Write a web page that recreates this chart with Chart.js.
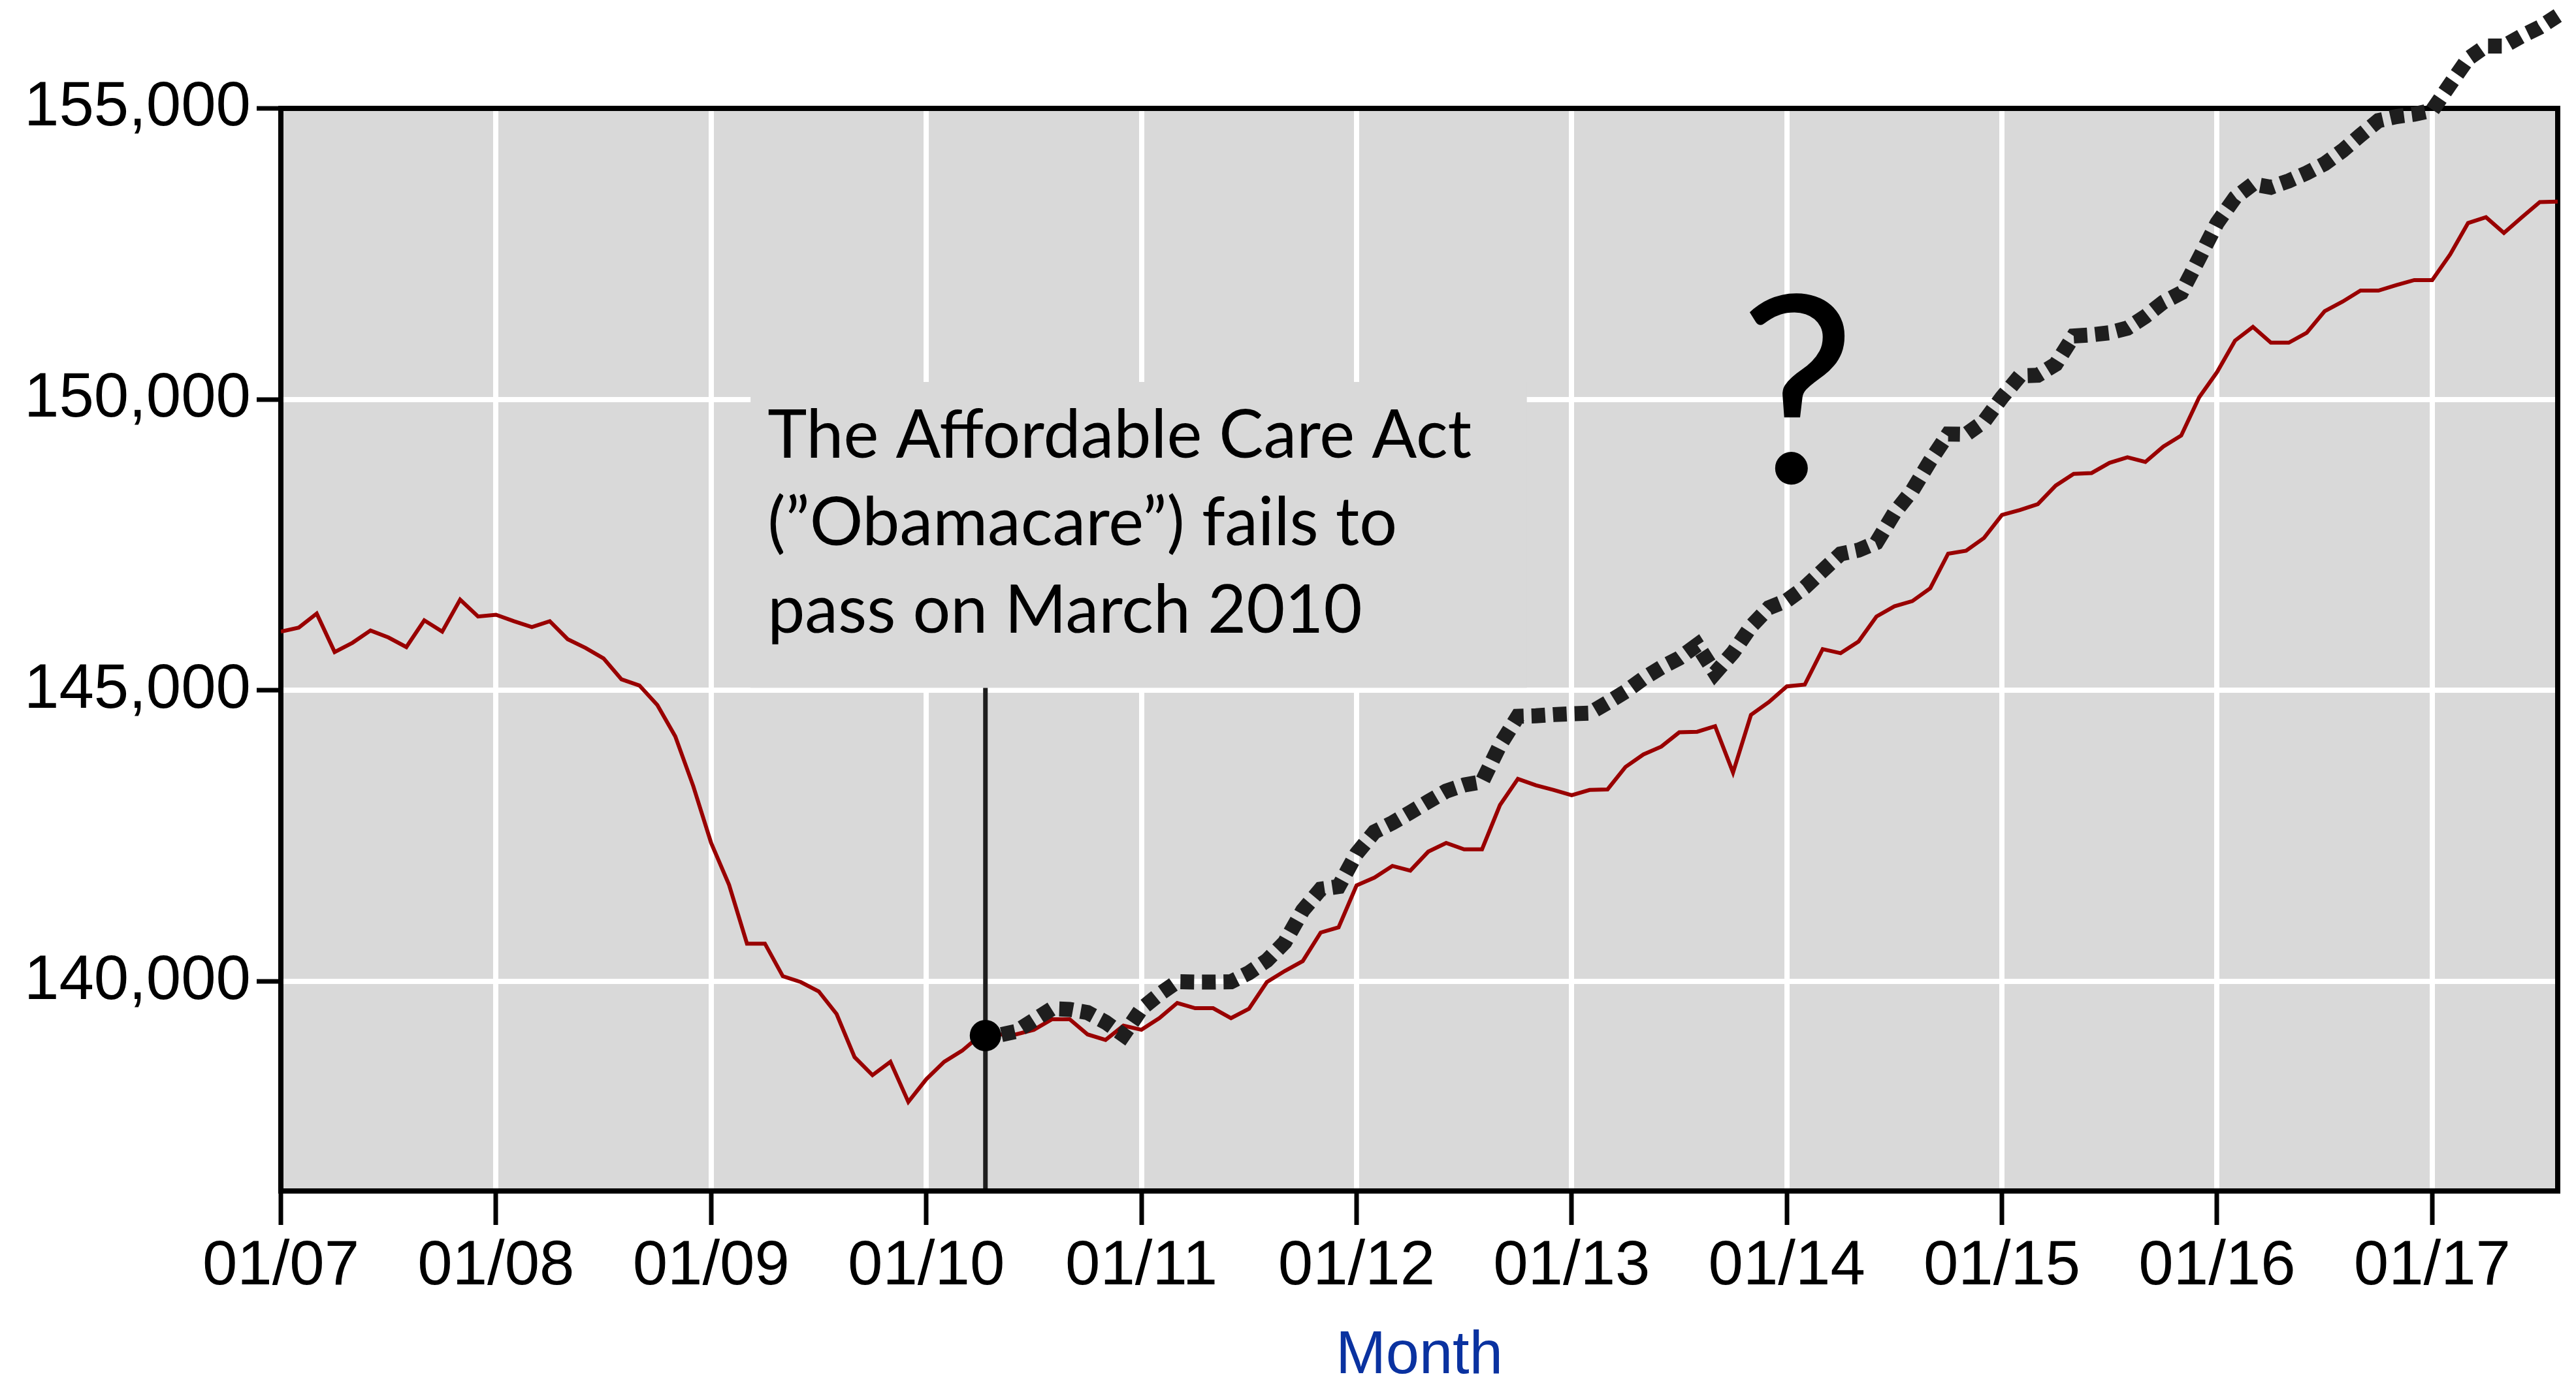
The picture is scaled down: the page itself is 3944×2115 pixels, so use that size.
<!DOCTYPE html>
<html>
<head>
<meta charset="utf-8">
<title>Employment level and the ACA</title>
<script src="https://cdn.jsdelivr.net/npm/chart.js@4.4.1/dist/chart.umd.min.js"></script>
<style>
  html, body { margin: 0; padding: 0; background: #ffffff; }
  #wrap { width: 3944px; height: 2115px; }
</style>
</head>
<body>
<div id="wrap"><canvas id="chart" width="3944" height="2115"></canvas></div>
<script>
// x tick labels, one per January
const tickLabels = ['01/07', '01/08', '01/09', '01/10', '01/11', '01/12', '01/13', '01/14', '01/15', '01/16', '01/17'];
// y tick values
const yTickValues = [140000, 145000, 150000, 155000];

// civilian employment level (thousands), monthly from 01/07
const employment = [
  146010, 146080, 146320, 145660, 145820, 146030, 145910, 145745, 146205, 146010, 146560, 146270,
  146300, 146190, 146090, 146190, 145880, 145730, 145550, 145190, 145085, 144750, 144210, 143360,
  142380, 141660, 140650, 140650, 140090, 139990, 139830, 139440, 138700, 138390, 138620, 137930,
  138320, 138620, 138810, 139070, 139090, 139090, 139170, 139350, 139350, 139090, 138995, 139240,
  139170, 139370, 139630, 139540, 139540, 139370, 139530, 139990, 140180, 140350, 140840, 140930,
  141650, 141785, 141985, 141905, 142230, 142380, 142270, 142270, 143030, 143480, 143370, 143290,
  143200, 143290, 143300, 143685, 143900, 144035, 144280, 144290, 144385, 143590, 144580, 144800,
  145070, 145100, 145710, 145640, 145840, 146270, 146445, 146535, 146755, 147350, 147400, 147620,
  148015, 148100, 148200, 148520, 148720, 148735, 148910, 149005, 148925, 149190, 149380, 150035,
  150470, 151010, 151245, 150975, 150975, 151145, 151515, 151680, 151870, 151870, 151965, 152050,
  152050, 152490, 153030, 153130, 152860, 153130, 153390, 153400
];

// hypothetical path without the ACA, starting at month index 39 (04/10)
const withoutAcaStart = 39;
const withoutAca = [
  139070, 139075, 139140, 139335, 139530, 139520, 139465, 139300, 139080,
  139530, 139780, 139995, 139990, 139990, 139995, 140150, 140360, 140675, 141220, 141585, 141630,
  142195, 142570, 142725, 142905, 143090, 143270, 143375, 143430, 144060, 144555, 144565, 144585,
  144600, 144610, 144790, 144980, 145205, 145395, 145555, 145780, 145300, 145650, 146100, 146420,
  146545, 146770, 147060, 147345, 147410, 147540, 148050, 148435, 148945, 149405, 149400, 149620,
  150035, 150405, 150415, 150605, 151090, 151110, 151145, 151225, 151425, 151670, 151830, 152425,
  153030, 153465, 153700, 153645, 153755, 153890, 154050, 154275, 154540, 154790, 154860, 154900,
  154965, 155415, 155855, 156070, 156070, 156245, 156395, 156595
];

// annotation, in data units
const acaMonth = 39.3;
const noteLines = ['The Affordable Care Act', '(\u201DObamacare\u201D) fails to', 'pass on March 2010'];
const noteBox = { x0: 26.2, x1: 69.5, y0: 145000, y1: 150300 };
const questionAt = { x: 84.6, y: 148570 };

const plotGray = '#d9d9d9';

const notePlugin = {
  id: 'note',
  beforeDraw(chart) {
    const { ctx, chartArea: a } = chart;
    ctx.save();
    ctx.fillStyle = '#ffffff';
    ctx.fillRect(0, 0, chart.width, chart.height);
    ctx.fillStyle = plotGray;
    ctx.fillRect(a.left, a.top, a.right - a.left, a.bottom - a.top);
    ctx.restore();
  },
  beforeDatasetsDraw(chart) {
    const { ctx, chartArea: a, scales: { x, y } } = chart;
    const bx0 = x.getPixelForValue(noteBox.x0);
    const bx1 = x.getPixelForValue(noteBox.x1);
    const by0 = y.getPixelForValue(noteBox.y1);
    const by1 = y.getPixelForValue(noteBox.y0) - 4;
    ctx.save();
    ctx.fillStyle = plotGray;
    ctx.fillRect(bx0, by0, bx1 - bx0, by1 - by0);

    const ex = x.getPixelForValue(acaMonth);
    ctx.strokeStyle = '#1e1e1e';
    ctx.lineWidth = 7;
    ctx.beginPath();
    ctx.moveTo(ex, by1);
    ctx.lineTo(ex, a.bottom);
    ctx.stroke();

    ctx.strokeStyle = '#000000';
    ctx.lineWidth = 8;
    ctx.strokeRect(a.left, a.top, a.right - a.left, a.bottom - a.top);
    ctx.restore();
  },
  afterDatasetsDraw(chart) {
    const { ctx, scales: { x, y } } = chart;
    ctx.save();
    // event marker on the actual series
    ctx.fillStyle = '#000000';
    ctx.beginPath();
    ctx.arc(x.getPixelForValue(acaMonth), y.getPixelForValue(employment[withoutAcaStart]), 24, 0, Math.PI * 2);
    ctx.fill();

    // note text
    const left = x.getPixelForValue(noteBox.x0) + 26;
    const top = y.getPixelForValue(noteBox.y1);
    ctx.font = '102px Lato';
    ctx.textBaseline = 'alphabetic';
    ctx.textAlign = 'left';
    noteLines.forEach((line, i) => {
      ctx.fillText(line, left, top + 116 + i * 134);
    });

    ctx.font = '400px Lato';
    ctx.textAlign = 'center';
    ctx.fillText('?', x.getPixelForValue(questionAt.x), y.getPixelForValue(questionAt.y));
    ctx.restore();
  }
};

new Chart(document.getElementById('chart'), {
  type: 'line',
  data: {
    datasets: [
      {
        label: 'Employment level',
        data: employment.map((v, i) => ({ x: i, y: v })),
        borderColor: '#990000',
        borderWidth: 6,
        pointRadius: 0,
        tension: 0,
        order: 2
      },
      {
        label: 'Without the ACA',
        data: withoutAca.map((v, i) => ({ x: withoutAcaStart + i, y: v })),
        borderColor: '#1e1e1e',
        borderWidth: 23,
        borderDash: [21, 12],
        borderCapStyle: 'butt',
        pointRadius: 0,
        tension: 0,
        clip: false,
        order: 1
      }
    ]
  },
  options: {
    responsive: false,
    animation: false,
    devicePixelRatio: 1,
    layout: { padding: { top: 166, right: 28, left: 0, bottom: 0 } },
    plugins: {
      legend: { display: false },
      tooltip: { enabled: false }
    },
    scales: {
      x: {
        type: 'linear',
        min: 0,
        max: 127,
        afterFit(scale) { scale.height = 291; },
        afterBuildTicks(scale) { scale.ticks = tickLabels.map((_, i) => ({ value: i * 12 })); },
        border: { display: false },
        grid: {
          color: '#ffffff',
          lineWidth: 8,
          drawTicks: true,
          tickLength: 52,
          tickColor: '#000000',
          tickWidth: 7
        },
        ticks: {
          autoSkip: false,
          maxRotation: 0,
          padding: 7,
          color: '#000000',
          font: { family: 'Liberation Sans', size: 96, lineHeight: 1.2 },
          callback: (v) => tickLabels[v / 12] ?? ''
        },
        title: {
          display: true,
          text: 'Month',
          color: '#0a32a0',
          font: { family: 'Liberation Sans', size: 92, lineHeight: 0.8 },
          padding: { top: 0, bottom: 1 }
        }
      },
      y: {
        min: 136400,
        max: 155000,
        afterFit(scale) { scale.width = 430; },
        afterBuildTicks(scale) { scale.ticks = yTickValues.map((v) => ({ value: v })); },
        border: { display: false },
        grid: {
          color: '#ffffff',
          lineWidth: 8,
          drawTicks: true,
          tickLength: 37,
          tickColor: '#000000',
          tickWidth: 7
        },
        ticks: {
          padding: 9,
          color: '#000000',
          font: { family: 'Liberation Sans', size: 96 },
          callback: (v) => v.toLocaleString('en-US')
        }
      }
    }
  },
  plugins: [notePlugin]
});
</script>
</body>
</html>
